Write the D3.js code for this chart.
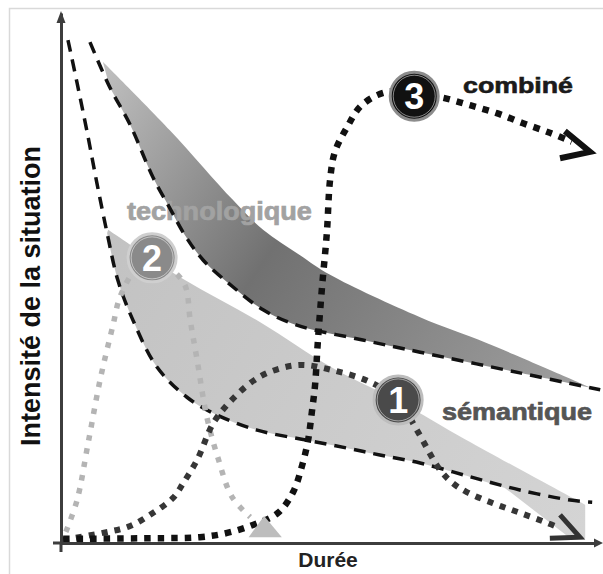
<!DOCTYPE html>
<html>
<head>
<meta charset="utf-8">
<script src="https://cdn.jsdelivr.net/npm/d3@7"></script>
<style>
  body { margin: 0; background: #fff; }
  text { font-family: "Liberation Sans", Arial, sans-serif; font-weight: bold; }
</style>
</head>
<body>
<div id="container"></div>
<script>
/* DATA  (x = durée, y = intensité, both read on a 0-100 scale) */

// upper (dark) band : top edge and dashed lower edge
const techBandTop = [[7.8,90.8],[20.3,77.9],[32.1,64.7],[37.7,59.1],[44.6,54.3],[50.2,50.6],[67.0,42.6],[79.5,37.7],[99.1,29.2]];
const techBandDash = [[5.4,94.5],[9.1,86.0],[12.9,78.9],[17.2,68.9],[20.3,63.2],[23.1,58.1],[26.5,53.4],[32.1,48.3],[37.7,44.0],[44.0,41.1],[56.3,38.3],[67.0,36.0],[85.6,32.1],[100.6,28.9]];

// lower (light) band : top edge, arrow-like end and dashed lower edge
const semBandTop = [[8.8,59.1],[22.8,49.8],[37.1,41.7],[50.7,33.0],[63.2,26.6],[75.7,19.4],[97.8,7.2]];
const semBandEnd = [[97.8,0.9],[95.0,0.9],[82.8,10.4]];
const semBandDash = [[1.3,94.9],[3.0,86.8],[4.9,77.4],[6.7,67.9],[8.6,58.5],[10.6,49.6],[13.4,42.1],[17.9,33.2],[23.5,27.5],[28.4,24.5],[36.6,21.3],[45.9,19.4],[53.4,17.9],[59.5,16.6],[67.0,15.1],[76.3,12.5],[85.6,10.0],[95.0,8.1],[99.1,7.7]];

// dotted curves
const curveTech = [[0.9,2.1],[3.0,8.1],[5.0,18.5],[7.3,30.8],[9.7,41.1],[11.0,46.4],[13.8,51.5],[17.0,53.8],[20.3,51.9],[23.1,48.7],[24.1,42.1],[25.4,34.5],[27.2,23.8],[29.3,16.0],[31.9,8.7],[35.3,4.9]];
const curveSem = [[0.4,0.6],[7.8,1.9],[12.9,3.2],[17.2,5.7],[20.9,8.5],[22.8,11.3],[25.4,15.7],[28.4,22.6],[31.5,26.6],[35.6,30.4],[39.0,32.3],[44.6,33.6],[50.7,32.6],[57.6,30.4],[62.9,27.0],[66.4,21.3],[70.7,13.8],[73.1,11.3],[75.7,9.6],[80.6,7.5],[85.6,5.7],[90.7,3.8],[93.1,2.8]];
const curveComb = [[0.4,0.8],[16.6,0.9],[25.9,1.1],[31.0,1.9],[35.8,3.4],[40.5,5.7],[43.3,9.6],[45.0,14.7],[46.1,19.4],[46.8,24.7],[47.4,29.8],[47.9,37.7],[48.7,48.3],[49.6,58.5],[50.2,68.5],[51.1,73.8],[53.4,78.5],[55.8,82.3],[59.0,84.5],[62.3,85.3],[65.9,84.9],[71.3,84.0],[76.3,82.6],[81.3,81.1],[86.2,79.2],[91.2,77.4],[95.3,75.7]];

// arrow heads : [arm, tip, arm]
const arrowTech = [[35.0,1.1],[37.9,5.1],[41.2,1.1]];
const arrowSem = [[93.1,5.3],[96.8,1.1],[91.2,0.9]];
const arrowComb = [[94.0,77.7],[98.7,73.8],[93.1,72.6]];

// numbered badges and curve names
const badgeNames = ["1", "2", "3"];
const badgeAt = [[62.9,27.0],[17.0,53.8],[65.9,84.3]];
const curveNames = ["sémantique", "technologique", "combiné"];
const curveNameAt = [[71.1,23.2],[12.3,60.9],[75.0,84.9]];

/* CONSTANTS */
const width = 603;
const height = 574;

const svg = d3.select("#container")
  .append("svg")
  .attr("width", width)
  .attr("height", height)

/**********/
/* SCALES */
/**********/
const x = d3.scaleLinear().domain([0, 100]).range([61, 597])
const y = d3.scaleLinear().domain([0, 100]).range([543, 13])

const line = d3.line()
  .x(d => x(d[0]))
  .y(d => y(d[1]))
  .curve(d3.curveCatmullRom.alpha(0.5))

const straight = d3.line().x(d => x(d[0])).y(d => y(d[1]))

// frame
svg.append("rect")
  .attr("x", 9.5).attr("y", 8.5)
  .attr("width", 620).attr("height", 600)
  .attr("fill", "none")
  .attr("stroke", "#d9d9d9")
  .attr("stroke-width", 1.5)

// gradients
const defs = svg.append("defs")
const gDark = defs.append("linearGradient")
  .attr("id", "gDark")
  .attr("gradientUnits", "userSpaceOnUse")
  .attr("x1", 100).attr("y1", 60).attr("x2", 590).attr("y2", 390)
gDark.append("stop").attr("offset", 0).attr("stop-color", "#c2c2c2")
gDark.append("stop").attr("offset", 0.42).attr("stop-color", "#717171")
gDark.append("stop").attr("offset", 1).attr("stop-color", "#a0a0a0")

const gLight = defs.append("linearGradient")
  .attr("id", "gLight")
  .attr("gradientUnits", "userSpaceOnUse")
  .attr("x1", 100).attr("y1", 230).attr("x2", 590).attr("y2", 520)
gLight.append("stop").attr("offset", 0).attr("stop-color", "#c2c2c2")
gLight.append("stop").attr("offset", 1).attr("stop-color", "#d4d4d4")

/*********/
/* BANDS */
/*********/
// light band
const semLowerBack = semBandDash.filter(d => d[0] <= 76.3 && d[0] >= 8.6).reverse()
svg.append("path")
  .attr("d", line(semBandTop) + straight(semBandEnd).replace("M", "L") + line(semLowerBack).replace("M", "L") + "Z")
  .attr("fill", "url(#gLight)")

// dark band
const techLowerBack = techBandDash.filter(d => d[0] >= 9).reverse()
svg.append("path")
  .attr("d", line(techBandTop) + line(techLowerBack).replace("M", "L") + "Z")
  .attr("fill", "url(#gDark)")

// label under the dashes
svg.append("text")
  .attr("x", x(curveNameAt[1][0]))
  .attr("y", y(curveNameAt[1][1]))
  .attr("font-size", 25)
  .attr("textLength", 185)
  .attr("lengthAdjust", "spacingAndGlyphs")
  .attr("fill", "#a2a2a2")
  .attr("stroke", "#a2a2a2")
  .attr("stroke-width", 0.7)
  .text(curveNames[1])

// dashed edges
svg.selectAll(".dash")
  .data([techBandDash, semBandDash])
  .join("path")
  .attr("class", "dash")
  .attr("d", line)
  .attr("fill", "none")
  .attr("stroke", "#111")
  .attr("stroke-width", 3.5)
  .attr("stroke-dasharray", "12,8")

/*****************/
/* DOTTED CURVES */
/*****************/
const dotted = [
  { pts: curveTech, color: "#b4b4b4", w: 5.5, dash: "5.5,8" },
  { pts: curveSem, color: "#363636", w: 6, dash: "6,7" },
  { pts: curveComb, color: "#111", w: 6.5, dash: "6.5,7" }
]
svg.selectAll(".curve")
  .data(dotted)
  .join("path")
  .attr("class", "curve")
  .attr("d", d => line(d.pts))
  .attr("fill", "none")
  .attr("stroke", d => d.color)
  .attr("stroke-width", d => d.w)
  .attr("stroke-dasharray", d => d.dash)

// arrow heads
svg.append("path")
  .attr("d", straight(arrowTech) + "Z")
  .attr("fill", "#bdbdbd")

svg.append("path")
  .attr("d", straight(arrowSem))
  .attr("fill", "none")
  .attr("stroke", "#333")
  .attr("stroke-width", 5)
  .attr("stroke-linejoin", "miter")

svg.append("path")
  .attr("d", straight(arrowComb))
  .attr("fill", "none")
  .attr("stroke", "#111")
  .attr("stroke-width", 6)
  .attr("stroke-linejoin", "miter")

/********/
/* AXES */
/********/
const xAxis = svg.append("g")
  .attr("transform", `translate(0,${y(0)})`)
  .call(d3.axisBottom(x).tickValues([]).tickSizeOuter(0))
const yAxis = svg.append("g")
  .attr("transform", `translate(${x(0)},0)`)
  .call(d3.axisLeft(y).tickValues([]).tickSizeOuter(0))

svg.selectAll(".domain")
  .attr("stroke", "#3d3d3d")
  .attr("stroke-width", 3)

// small overshoot at the origin
svg.append("path")
  .attr("d", `M${x(0) - 8},${y(0)}H${x(0)}M${x(0)},${y(0)}V${y(0) + 9}`)
  .attr("stroke", "#3d3d3d")
  .attr("stroke-width", 3)

// axis arrow tips
svg.append("path")
  .attr("d", `M${x(0)},${y(100) - 2}l-4.5,12h9Z`)
  .attr("fill", "#3d3d3d")
svg.append("path")
  .attr("d", `M${x(100) + 6},${y(0)}l-9,-4.5v9Z`)
  .attr("fill", "#3d3d3d")

/**********/
/* BADGES */
/**********/
const badgeFill = ["#4a4a4a", "#8a8a8a", "#111"]
const badgeRing = ["#bdbdbd", "#cfcfcf", "#8c8c8c"]

const badge = svg.selectAll(".badge")
  .data(badgeNames)
  .join("g")
  .attr("class", "badge")
  .attr("transform", (d, i) => `translate(${x(badgeAt[i][0])},${y(badgeAt[i][1])})`)

badge.append("circle")
  .attr("r", 24)
  .attr("fill", (d, i) => badgeFill[i])
  .attr("stroke", (d, i) => badgeRing[i])
  .attr("stroke-width", 3)
badge.append("circle")
  .attr("r", 21)
  .attr("fill", "none")
  .attr("stroke", "#fff")
  .attr("stroke-opacity", 0.5)
  .attr("stroke-width", 1)
badge.append("text")
  .attr("text-anchor", "middle")
  .attr("dy", "0.36em")
  .attr("font-size", 36)
  .attr("fill", "#fff")
  .text(d => d)

/**********/
/* LABELS */
/**********/
svg.append("text")
  .attr("x", x(curveNameAt[0][0]))
  .attr("y", y(curveNameAt[0][1]))
  .attr("font-size", 24)
  .attr("textLength", 150)
  .attr("lengthAdjust", "spacingAndGlyphs")
  .attr("fill", "#555")
  .attr("stroke", "#555")
  .attr("stroke-width", 0.7)
  .text(curveNames[0])

svg.append("text")
  .attr("x", x(curveNameAt[2][0]))
  .attr("y", y(curveNameAt[2][1]))
  .attr("font-size", 22)
  .attr("textLength", 110)
  .attr("lengthAdjust", "spacingAndGlyphs")
  .attr("fill", "#1a1a1a")
  .attr("stroke", "#1a1a1a")
  .attr("stroke-width", 0.6)
  .text(curveNames[2])

// axis titles
svg.append("text")
  .attr("transform", "translate(40,296) rotate(-90)")
  .attr("text-anchor", "middle")
  .attr("font-size", 27)
  .attr("fill", "#111")
  .text("Intensité de la situation")

svg.append("text")
  .attr("x", 328)
  .attr("y", 567)
  .attr("text-anchor", "middle")
  .attr("font-size", 21)
  .attr("fill", "#222")
  .text("Durée")
</script>
</body>
</html>
